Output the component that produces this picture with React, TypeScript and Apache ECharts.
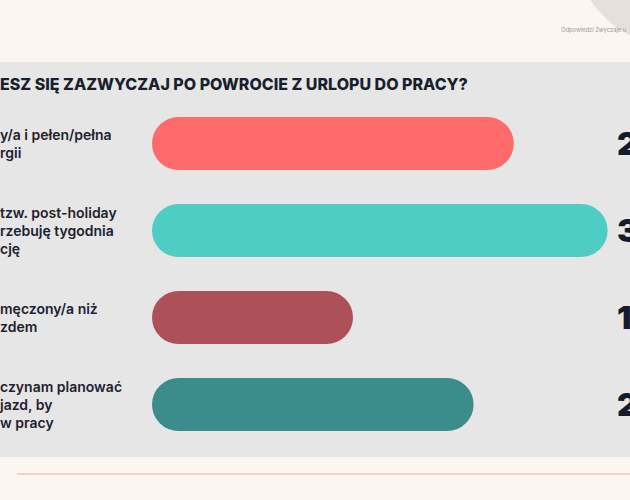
import React, { useEffect, useRef } from "react";
import * as echarts from "echarts";

const title = "ESZ SIĘ ZAZWYCZAJ PO POWROCIE Z URLOPU DO PRACY?";
const sourceNote = "Odpowiedzi Zwyczaje u";
const categories = [
  "y/a i pełen/pełna\nrgii",
  "tzw. post-holiday\nrzebuję tygodnia\ncję",
  "męczony/a niż\nzdem",
  "czynam planować\njazd, by\nw pracy",
];
const values = [27, 34, 15, 24];
const barColors = ["#ff6b6b", "#4ecdc4", "#ad5057", "#3c8c8c"];

export default function App() {
  const ref = useRef<HTMLDivElement>(null);
  useEffect(() => {
    if (!ref.current) return;
    const chart = echarts.init(ref.current, undefined, { renderer: "svg" });
    chart.setOption({
      animation: false,
      backgroundColor: "#fdf5f0",
      graphic: [
        { type: "rect", shape: { x: 0, y: 62, width: 630, height: 395 }, style: { fill: "#e6e6e6" }, z: -10 },
        { type: "circle", shape: { cx: 680, cy: -60, r: 108 }, style: { fill: "#e6dfdb" }, z: -10 },
        { type: "line", shape: { x1: 17, y1: 474, x2: 630, y2: 474 }, style: { stroke: "#f0c6ba", lineWidth: 1.5 }, z: -10 },
        {
          type: "text", x: 561, y: 29,
          style: { text: sourceNote, fontSize: 5.8, fill: "#9a9a9a", fontFamily: "Inter", verticalAlign: "middle" },
        },
        {
          type: "text", x: 0, y: 84,
          style: { text: title, fontSize: 16, fontWeight: 800, fill: "#1a1f2e", fontFamily: "Inter", verticalAlign: "middle" },
        },
      ],
      grid: { left: 152, right: 9, top: 100, bottom: 52, containLabel: false, outerBoundsMode: "none" },
      xAxis: { type: "value", min: 0, max: 35, show: false },
      yAxis: [
        {
          type: "category",
          data: categories,
          inverse: true,
          axisLine: { show: false },
          axisTick: { show: false },
          axisLabel: {
            align: "left",
            margin: 152,
            fontSize: 14,
            lineHeight: 18,
            fontWeight: 600,
            color: "#1d2230",
            fontFamily: "Inter",
            padding: [3, 0, 0, 0],
          },
        },
        {
          type: "category",
          position: "right",
          data: values.map((v) => `${v}%`),
          inverse: true,
          axisLine: { show: false },
          axisTick: { show: false },
          axisLabel: {
            align: "left",
            margin: -4,
            fontSize: 32,
            fontWeight: 900,
            color: "#141b2d",
            fontFamily: "Inter",
          },
        },
      ],
      series: [
        {
          type: "bar",
          yAxisIndex: 0,
          barWidth: 53,
          data: values.map((v, i) => ({ value: v, itemStyle: { color: barColors[i], borderRadius: 26.5 } })),
        },
      ],
    });
    return () => chart.dispose();
  }, []);
  return <div ref={ref} style={{ position: "absolute", left: 0, top: 0, width: 630, height: 500 }} />;
}
